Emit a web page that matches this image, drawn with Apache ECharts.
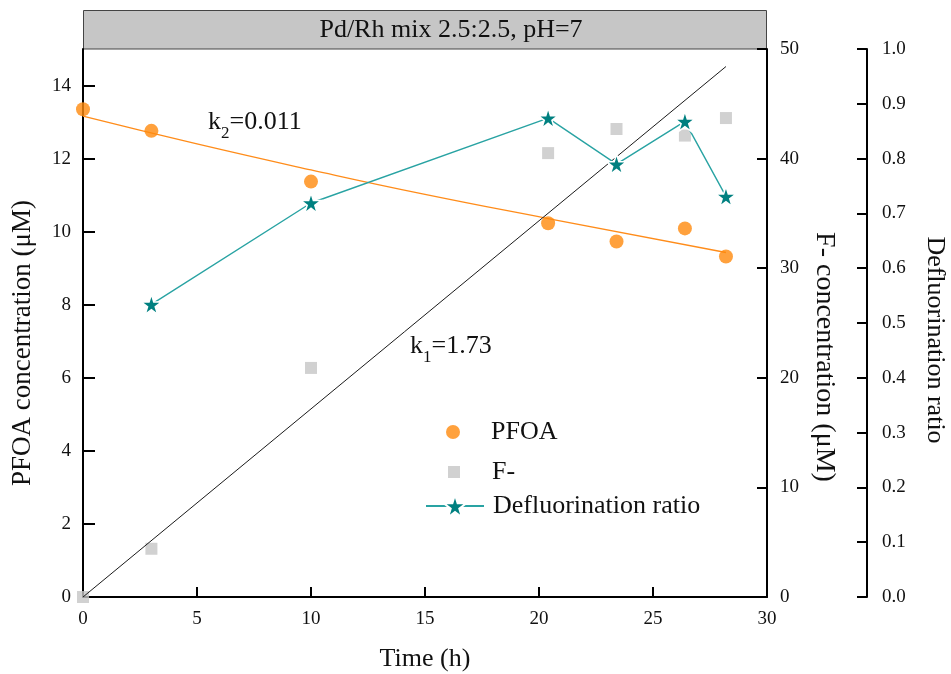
<!DOCTYPE html>
<html>
<head>
<meta charset="utf-8">
<script src="https://cdn.jsdelivr.net/npm/echarts@6/dist/echarts.min.js"></script>
<style>
  html, body { margin: 0; padding: 0; background: #ffffff; }
  #chart { width: 951px; height: 674px; }
</style>
</head>
<body>
<div id="chart"></div>
<script>
// Panel title
const panelTitle = 'Pd/Rh mix 2.5:2.5, pH=7';

// Tick values
const pfoaTicks = [0, 2, 4, 6, 8, 10, 12, 14];

// PFOA concentration (µM) vs time (h)
const pfoaTime = [0, 3, 10, 20.4, 23.4, 26.4, 28.2];
const pfoaConc = [13.35, 12.76, 11.37, 10.23, 9.73, 10.09, 9.32];

// PFOA decay fit (k2 = 0.011)
const pfoaFitTime = [0, 5, 10, 15, 20.4, 28.2];
const pfoaFitConc = [13.16, 12.40, 11.69, 11.02, 10.36, 9.43];

// Fluoride concentration (µM)
const fluorideTime = [0, 3, 10, 20.4, 23.4, 26.4, 28.2];
const fluorideConc = [0, 4.4, 20.9, 40.5, 42.7, 42.1, 43.7];

// Fluoride release fit (k1 = 1.73)
const fluorideFitTime = [0, 28.2];
const fluorideFitConc = [0, 48.4];

// Defluorination ratio
const defluorTime = [3, 10, 20.4, 23.4, 26.4, 28.2];
const defluorRatio = [0.534, 0.719, 0.874, 0.790, 0.868, 0.731];

const pair = (xs, ys) => xs.map((x, i) => [x, ys[i]]);

const SERIF = '"Liberation Serif", "Times New Roman", serif';
const STAR = 'path://M50,0 L61.2,34.5 L97.6,34.5 L68.2,55.9 L79.4,90.5 L50,69.1 L20.6,90.5 L31.8,55.9 L2.4,34.5 L38.8,34.5 Z';
const SQUARE = 'path://M0,0 L10,0 L10,10 L0,10 Z';

const chart = echarts.init(document.getElementById('chart'), null, { renderer: 'canvas' });

const axisLine = { show: true, onZero: false, lineStyle: { color: '#000', width: 2 } };
const tickStyle = { lineStyle: { color: '#000', width: 2 } };
const labelStyle = { fontFamily: SERIF, fontSize: 19, color: '#111' };
const nameFont = size => ({ fontFamily: SERIF, fontSize: size, color: '#111' });
const legendText = { fontFamily: SERIF, fontSize: 26, color: '#111', padding: [0, 0, 0, 4] };

const option = {
  backgroundColor: '#ffffff',
  animation: false,
  grid: { left: 83, right: 184, top: 49, bottom: 77, containLabel: false, outerBoundsMode: 'none' },
  xAxis: {
    type: 'value', min: 0, max: 30, interval: 5,
    name: 'Time (h)', nameLocation: 'middle', nameGap: 49, nameTextStyle: nameFont(26),
    axisLine: axisLine,
    axisTick: Object.assign({ show: true, inside: true, length: 10 }, tickStyle),
    axisLabel: Object.assign({ margin: 13 }, labelStyle),
    splitLine: { show: false }
  },
  yAxis: [
    {
      type: 'value', position: 'left', min: 0, max: 15, interval: 2,
      name: 'PFOA concentration (μM)', nameLocation: 'middle', nameGap: 47,
      nameTextStyle: Object.assign({ padding: [0, 40, 0, 0] }, nameFont(27)),
      axisLine: axisLine,
      axisTick: Object.assign({ show: true, inside: true, length: 12, customValues: pfoaTicks }, tickStyle),
      axisLabel: Object.assign({ margin: 12, customValues: pfoaTicks }, labelStyle),
      splitLine: { show: false }
    },
    {
      type: 'value', position: 'right', min: 0, max: 50, interval: 10,
      name: 'F- concentration (μM)', nameLocation: 'middle', nameGap: 29, nameRotate: -90,
      nameTextStyle: Object.assign({ padding: [0, 0, 0, 68] }, nameFont(28)),
      axisLine: axisLine,
      axisTick: Object.assign({ show: true, inside: true, length: 10 }, tickStyle),
      axisLabel: Object.assign({ margin: 13 }, labelStyle),
      splitLine: { show: false }
    },
    {
      type: 'value', position: 'right', offset: 100, min: 0, max: 1, interval: 0.1,
      name: 'Defluorination ratio', nameLocation: 'middle', nameGap: 55, nameRotate: -90,
      nameTextStyle: Object.assign({ padding: [0, 0, 0, 34] }, nameFont(26)),
      axisLine: axisLine,
      axisTick: Object.assign({ show: true, inside: true, length: 10 }, tickStyle),
      axisLabel: Object.assign({ margin: 15, formatter: v => v.toFixed(1) }, labelStyle),
      splitLine: { show: false }
    }
  ],
  legend: [
    {
      data: [{ name: 'PFOA', icon: 'circle' }],
      left: 446, top: 419, padding: 0, itemWidth: 58, itemHeight: 14,
      textStyle: legendText
    },
    {
      data: [{ name: 'F-', icon: SQUARE }],
      left: 448, top: 459, padding: 0, itemWidth: 58, itemHeight: 12,
      textStyle: legendText
    },
    {
      data: [{ name: 'Defluorination ratio' }],
      left: 425, top: 493, padding: 0, itemWidth: 58, itemHeight: 28,
      textStyle: legendText
    }
  ],
  graphic: [
    {
      type: 'rect', silent: true,
      shape: { x: 83.5, y: 10.5, width: 683, height: 38.5 },
      style: { fill: '#c6c6c6', stroke: '#444444', lineWidth: 1 }
    },
    {
      type: 'text', silent: true, x: 451, y: 30,
      style: { text: panelTitle, font: '26px ' + SERIF, fill: '#111', align: 'center', verticalAlign: 'middle' }
    },
    {
      type: 'text', silent: true, x: 208, y: 109,
      style: {
        text: '{a|k}{b|2}{a|=0.011}', verticalAlign: 'top',
        rich: {
          a: { fontFamily: SERIF, fontSize: 26, fill: '#111', lineHeight: 28, verticalAlign: 'top' },
          b: { fontFamily: SERIF, fontSize: 17, fill: '#111', lineHeight: 18, padding: [16, 0, 0, 0], verticalAlign: 'top' }
        }
      }
    },
    {
      type: 'text', silent: true, x: 410, y: 333,
      style: {
        text: '{a|k}{b|1}{a|=1.73}', verticalAlign: 'top',
        rich: {
          a: { fontFamily: SERIF, fontSize: 26, fill: '#111', lineHeight: 28, verticalAlign: 'top' },
          b: { fontFamily: SERIF, fontSize: 17, fill: '#111', lineHeight: 18, padding: [16, 0, 0, 0], verticalAlign: 'top' }
        }
      }
    }
  ],
  series: [
    {
      name: 'PFOA fit', type: 'line', yAxisIndex: 0, smooth: true,
      data: pair(pfoaFitTime, pfoaFitConc), symbol: 'none',
      lineStyle: { color: '#ff8c1a', width: 1.3 }, z: 2
    },
    {
      name: 'F- fit', type: 'line', yAxisIndex: 1,
      data: pair(fluorideFitTime, fluorideFitConc), symbol: 'none',
      lineStyle: { color: '#1a1a1a', width: 1 }, z: 3
    },
    {
      name: 'F-', type: 'scatter', yAxisIndex: 1,
      data: pair(fluorideTime, fluorideConc), symbol: 'rect', symbolSize: 12,
      itemStyle: { color: '#c6c6c6' }, z: 2
    },
    {
      name: 'PFOA', type: 'scatter', yAxisIndex: 0,
      data: pair(pfoaTime, pfoaConc), symbol: 'circle', symbolSize: 14,
      itemStyle: { color: '#ff8a0d' }, z: 4
    },
    {
      name: 'Defluorination ratio', type: 'line', yAxisIndex: 2,
      data: pair(defluorTime, defluorRatio), symbol: STAR, symbolSize: 20, showSymbol: true,
      lineStyle: { color: '#29a3a3', width: 1.4 },
      itemStyle: { color: '#008080', borderColor: '#ffffff', borderWidth: 1.5 }, z: 5
    }
  ]
};

chart.setOption(option);
</script>
</body>
</html>
